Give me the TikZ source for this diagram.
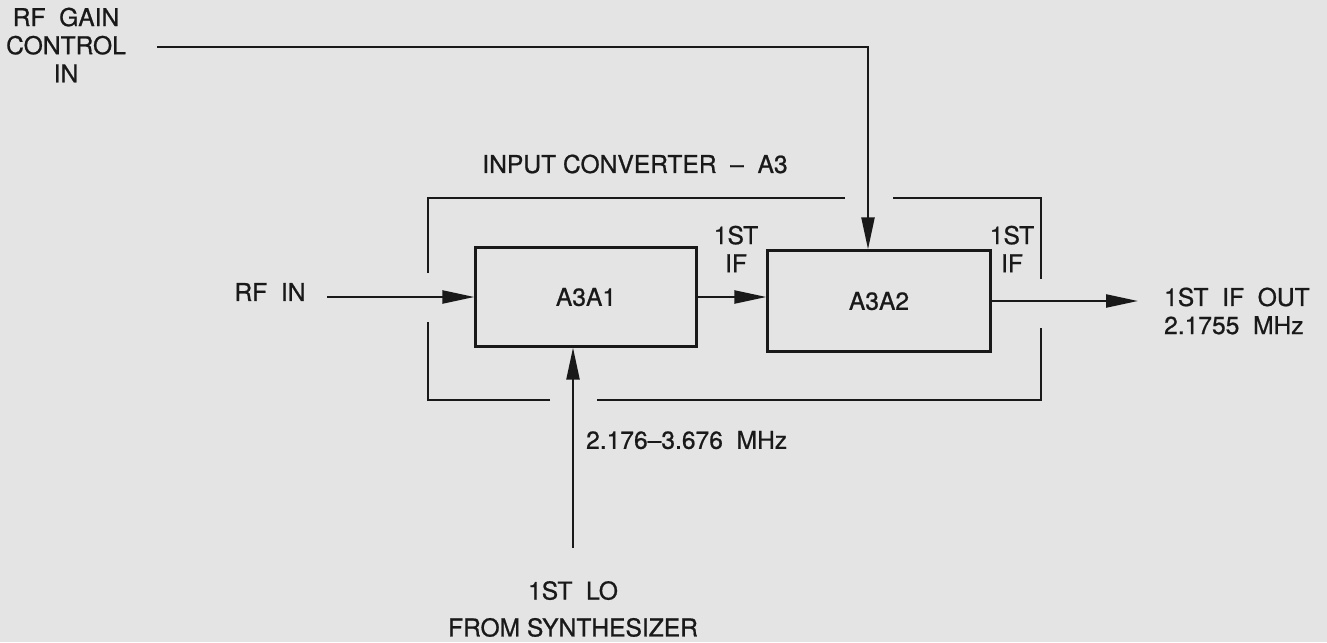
\documentclass[tikz,border=0pt]{standalone}
\usepackage{fontspec}
\setmainfont{TeX Gyre Heros}[FakeBold=0.8]
\usepackage{tikz}
\usetikzlibrary{arrows.meta,calc,positioning}
\definecolor{paper}{RGB}{228,228,228}
\definecolor{ink}{RGB}{25,25,25}

\begin{document}
\begin{tikzpicture}[x=0.02cm,y=-0.02cm,color=ink,line width=1.3pt,
    font=\fontsize{14}{16}\selectfont,
    blk/.style={draw,line width=1.3pt,minimum width=4.42cm,minimum height=1.98cm,inner sep=0pt},
    sig/.style={-{Triangle[length=0.64cm,width=0.26cm]}},
    lbl/.style={align=center,inner sep=0pt}]
            %Paper
            \fill[paper] (0,0) rectangle (1327,642);
            \useasboundingbox (0,0) rectangle (1327,642);
            %Points
            \coordinate (ctl0) at (157,47);
            \coordinate (ctl1) at (868,47);
            \coordinate (rf0) at (327,297);
            \coordinate (out1) at (1138,302);
            \coordinate (lo0) at (573,548);
            %Blocks
            \node[blk] (a3a1) at (586,297) {A3A1};
            \node[blk,minimum width=4.46cm,minimum height=2.02cm] (a3a2) at (879,301) {A3A2};
            %Labels
            \node[lbl] (gain) at (66,45) {RF\ \ GAIN\\CONTROL\\IN};
            \node[lbl] (conv) at (635,164) {INPUT CONVERTER\ \ --\ \ A3};
            \node[lbl] (rfin) at (270,292) {RF\ \ IN};
            \node[lbl] (if1) at (736,249) {1ST\\IF};
            \node[lbl] (if2) at (1012,249) {1ST\\IF};
            \node[lbl,align=left,anchor=west] (ifout) at (1163,311) {1ST\ \ IF\ \ OUT\\2.1755\ \ MHz};
            \node[lbl,anchor=west] (lofreq) at (585,440) {2.176--3.676\ \ MHz};
            \node[lbl,font=\fontsize{14}{21}\selectfont] (lo) at (573,609) {1ST\ \ LO\\FROM SYNTHESIZER};
            %Enclosure
            \draw (428,273) -- (428,198) -- (845,198);
            \draw (893,198) -- (1041,198) -- (1041,279);
            \draw (1041,328) -- (1041,400) -- (597,400);
            \draw (550,400) -- (428,400) -- (428,322);
            %Signals
            \draw[sig] (rf0) -- (rf0 -| a3a1.west);
            \draw[sig] (a3a1.east) -- (a3a1.east -| a3a2.west);
            \draw[sig] (a3a2.east) -- (a3a2.east -| out1);
            \draw[sig] (ctl0) -- (ctl1) -- (ctl1 |- a3a2.north);
            \draw[sig] (lo0) -- (lo0 |- a3a1.south);
\end{tikzpicture}
\end{document}
